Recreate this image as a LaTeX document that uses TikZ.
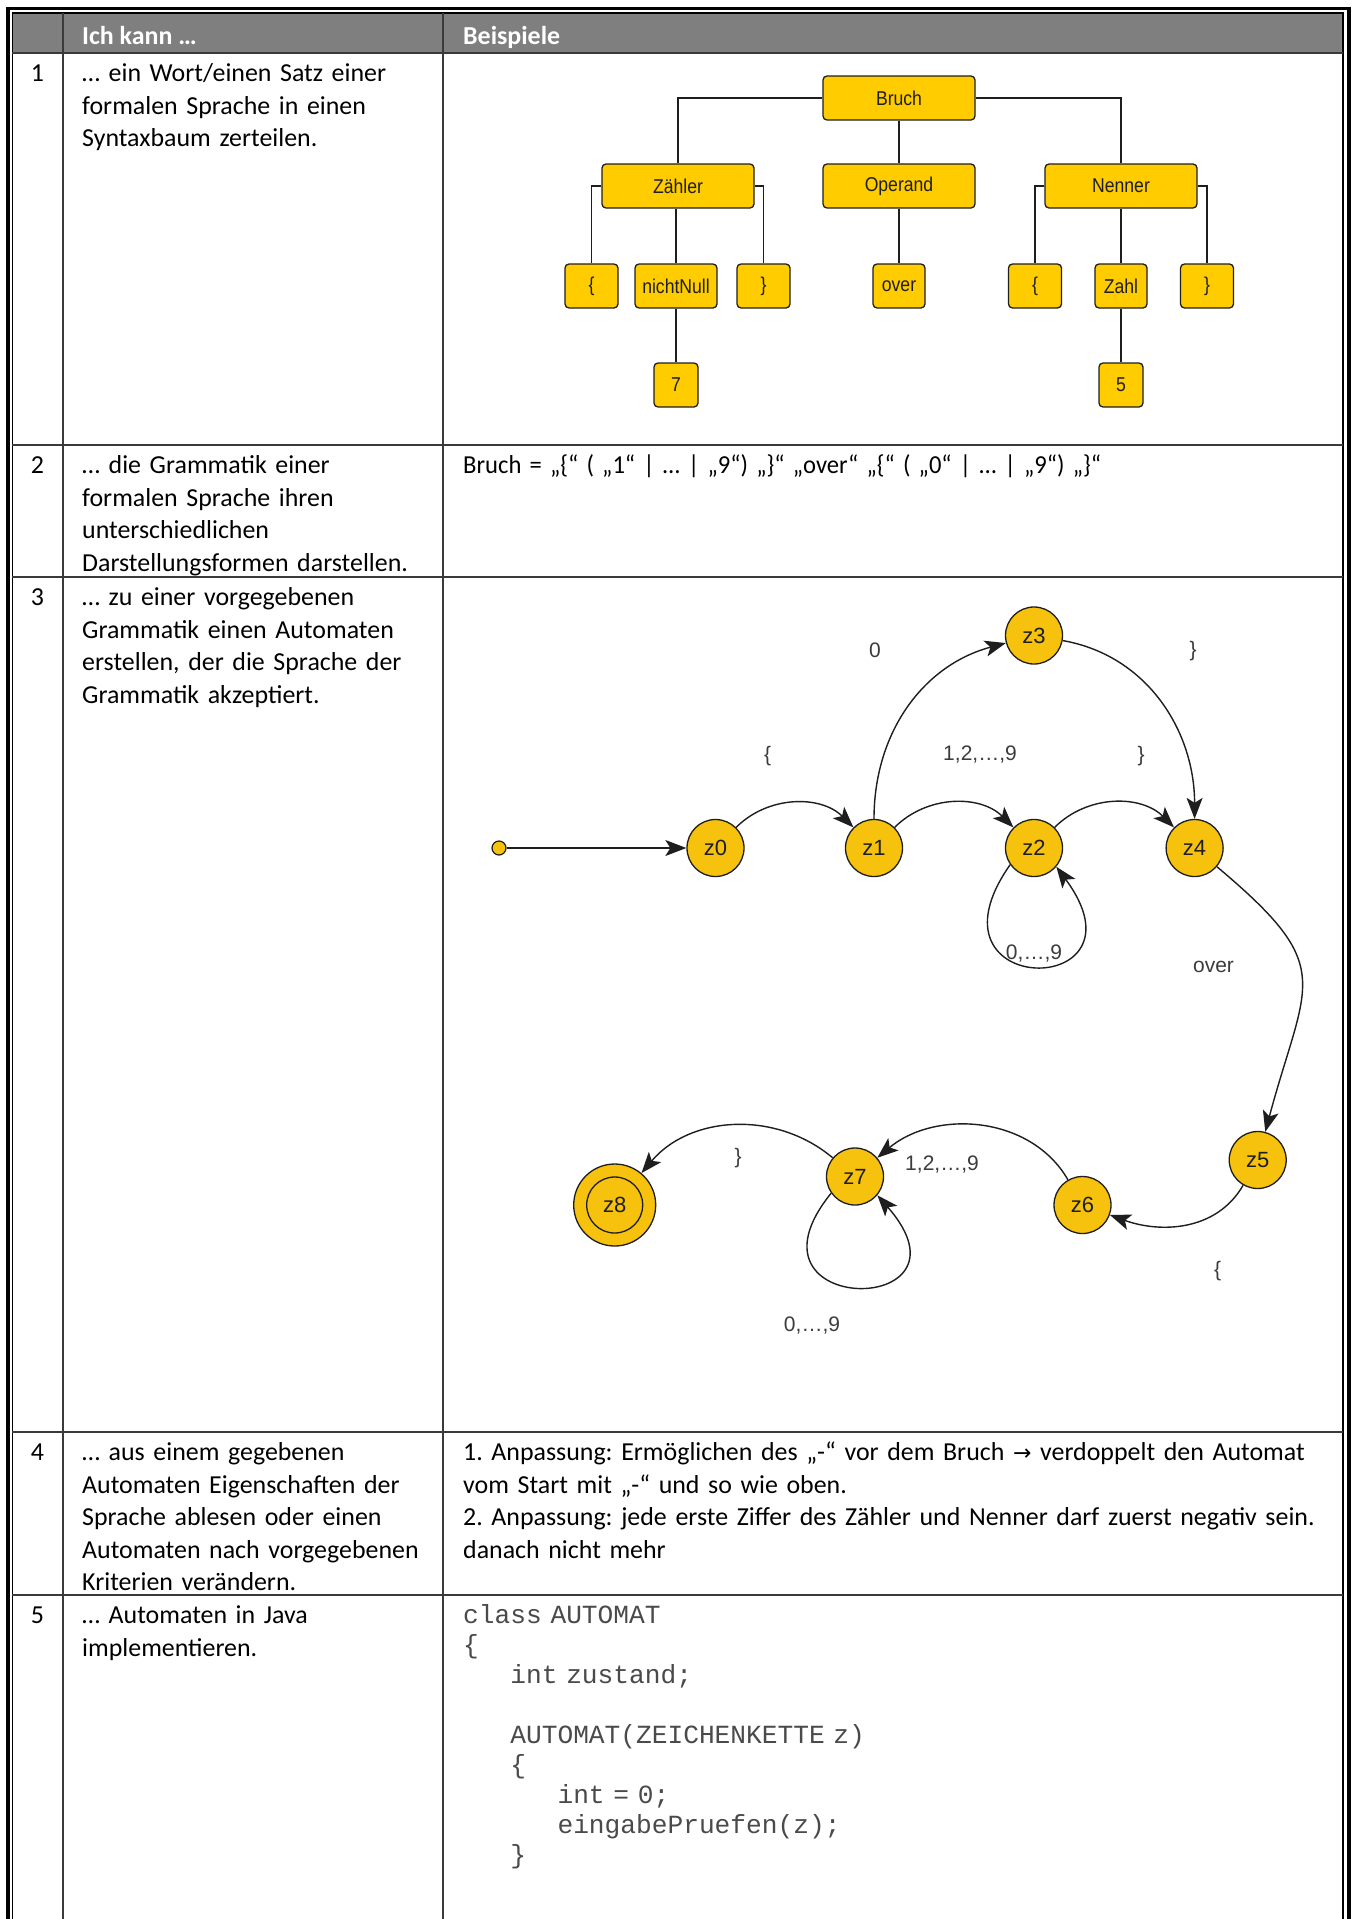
\documentclass[tikz,border=0pt]{standalone}
\usepackage{fontspec}
\setmainfont{Carlito}
\newfontfamily\codefont{Liberation Mono}
\newfontfamily\diafont{Liberation Sans}
\newfontfamily\treefont[FakeStretch=0.88]{Liberation Sans}
\newfontfamily\symfont{DejaVu Sans}
\usetikzlibrary{arrows.meta}
\definecolor{gold}{HTML}{FFCC00}
\definecolor{cgold}{HTML}{F7C20E}
\definecolor{hdr}{HTML}{7F7F7F}
\definecolor{gridc}{HTML}{3A3A3A}
\definecolor{ink}{HTML}{1E1E1E}
\definecolor{lblc}{HTML}{3C3C3C}
\definecolor{codec}{HTML}{4A4A4A}
\newcommand{\bodyfont}{\fontsize{25.9pt}{32.5pt}\selectfont\frenchspacing}
\begin{document}
\begin{tikzpicture}[x=1pt,y=1pt,
  cellL/.style={anchor=base west, inner sep=0, text width=360pt, align=left, font=\bodyfont},
  cellR/.style={anchor=base west, inner sep=0, text width=880pt, align=left, font=\bodyfont},
  rownum/.style={anchor=base, inner sep=0, font=\bodyfont},
  hdrtext/.style={anchor=base west, inner sep=0, font=\bodyfont\bfseries, text=white},
  gridline/.style={draw=gridc, line width=1.3pt},
  tbox/.style={draw=ink, fill=gold, rounded corners=4pt, line width=1.3pt, minimum height=44pt, inner sep=0, font=\treefont\fontsize{20pt}{22pt}\selectfont, text=ink},
  tline/.style={draw=ink, line width=1.2pt},
  state/.style={circle, draw=ink, fill=cgold, line width=1.3pt, minimum size=57pt, inner sep=0, font=\diafont\fontsize{22pt}{24pt}\selectfont, text=ink},
  lbl/.style={inner sep=0, font=\diafont\fontsize{21pt}{24pt}\selectfont, text=lblc},
  arr/.style={draw=ink, line width=1.4pt, -{Stealth[length=21pt,width=16pt,inset=5pt]}}
]
\useasboundingbox (0,0) rectangle (1355,-1919);
\fill[white] (0,0) rectangle (1355,-1919);

% ---------- table ----------
\fill[hdr] (12.3,-13.5) rectangle (1343,-53);
\draw[black, line width=3.5pt] (7.8,-1919) -- (7.8,-8.5) -- (1349,-8.5) -- (1349,-1919);
\draw[black, line width=1.5pt] (12.3,-1919) -- (12.3,-13) -- (1343,-13) -- (1343,-1919);
\draw[gridline] (63,-13) -- (63,-1919);
\draw[gridline] (443,-13) -- (443,-1919);
\foreach \yy in {53,445,577,1432,1595} {
  \draw[gridline] (12.3,-\yy) -- (1343,-\yy);
}

% header
\node[hdrtext] (h1) at (82,-45) {Ich kann …};
\node[hdrtext] (h2) at (463,-45) {Beispiele};

% row numbers
\node[rownum] (n1) at (37.5,-81.5) {1};
\node[rownum] (n2) at (37.5,-473.5) {2};
\node[rownum] (n3) at (37.5,-605.5) {3};
\node[rownum] (n4) at (37.5,-1460.5) {4};
\node[rownum] (n5) at (37.5,-1623.5) {5};

% left column texts
\node[cellL] (t1) at (82,-81.5) {… ein Wort/einen Satz einer\\formalen Sprache in einen\\Syntaxbaum zerteilen.};
\node[cellL] (t2) at (82,-473.5) {… die Grammatik einer\\formalen Sprache ihren\\unterschiedlichen\\Darstellungsformen darstellen.};
\node[cellL] (t3) at (82,-605.5) {… zu einer vorgegebenen\\Grammatik einen Automaten\\erstellen, der die Sprache der\\Grammatik akzeptiert.};
\node[cellL] (t4) at (82,-1460.5) {… aus einem gegebenen\\Automaten Eigenschaften der\\Sprache ablesen oder einen\\Automaten nach vorgegebenen\\Kriterien verändern.};
\node[cellL] (t5) at (82,-1623.5) {… Automaten in Java\\implementieren.};

% right column texts
\node[cellR] (r2) at (463,-473.5) {\scalebox{0.95}[1]{Bruch = „\{“ ( „1“ | … | „9“) „\}“ „over“ „\{“ ( „0“ | … | „9“) „\}“}};
\node[cellR] (r4) at (463,-1460.5) {1. Anpassung: Ermöglichen des „-“ vor dem Bruch {\symfont\fontsize{22pt}{26pt}\selectfont →} verdoppelt den Automat\\vom Start mit „-“ und so wie oben.\\2. Anpassung: jede erste Ziffer des Zähler und Nenner darf zuerst negativ sein.\\danach nicht mehr};
\node[anchor=base west, inner sep=0, text width=880pt, align=left, font=\codefont\fontsize{26.2pt}{30pt}\selectfont, text=codec] (code) at (463,-1623.5)
 {class AUTOMAT\\
  \{\\
  \phantom{int}int zustand;\\
  \mbox{}\\
  \phantom{int}AUTOMAT(ZEICHENKETTE z)\\
  \phantom{int}\{\\
  \phantom{intint}int = 0;\\
  \phantom{intint}eingabePruefen(z);\\
  \phantom{int}\}};

% ---------- syntax tree ----------
\node[tbox, minimum width=152pt] (bruch) at (899,-98) {Bruch};
\node[tbox, minimum width=152pt] (zaehler) at (678,-186) {Zähler};
\node[tbox, minimum width=152pt] (operand) at (899,-186) {Operand};
\node[tbox, minimum width=152pt] (nenner) at (1121,-186) {Nenner};
\node[tbox, minimum width=53pt] (zl) at (591.5,-286) {\{};
\node[tbox, minimum width=82pt] (nn) at (676,-286) {nichtNull};
\node[tbox, minimum width=53pt] (zr) at (763.5,-286) {\}};
\node[tbox, minimum width=52pt] (over) at (899,-286) {over};
\node[tbox, minimum width=53pt] (nl) at (1035,-286) {\{};
\node[tbox, minimum width=52pt] (zahl) at (1121,-286) {Zahl};
\node[tbox, minimum width=53pt] (nr) at (1207,-286) {\}};
\node[tbox, minimum width=44pt] (seven) at (676,-385) {7};
\node[tbox, minimum width=44pt] (five) at (1121,-385) {5};

\draw[tline] (bruch.west) -| (zaehler.north);
\draw[tline] (bruch.east) -| (nenner.north);
\draw[tline] (bruch.south) -- (operand.north);
\draw[tline] (zaehler.west) -| (zl.north);
\draw[tline] (zaehler.east) -| (zr.north);
\draw[tline] (nn.north) -- (nn.north |- zaehler.south);
\draw[tline] (nn.south) -- (seven.north);
\draw[tline] (operand.south) -- (over.north);
\draw[tline] (nenner.west) -| (nl.north);
\draw[tline] (nenner.east) -| (nr.north);
\draw[tline] (zahl.north) -- (nenner.south);
\draw[tline] (zahl.south) -- (five.north);

% ---------- automaton ----------
\node[circle, draw=ink, fill=cgold, line width=1.2pt, minimum size=14pt, inner sep=0] (start) at (499,-848) {};
\node[state] (z0) at (715.5,-848) {z0};
\node[state] (z1) at (874,-848) {z1};
\node[state] (z2) at (1034,-848) {z2};
\node[state] (z4) at (1194.6,-848) {z4};
\node[state] (z3) at (1034,-635.5) {z3};
\node[state] (z5) at (1257.7,-1160) {z5};
\node[state] (z6) at (1082.5,-1205) {z6};
\node[state] (z7) at (855,-1176.5) {z7};
\node[state, minimum size=82pt] (z8) at (614.7,-1205) {z8};
\draw[draw=ink, line width=1.3pt] (z8.center) circle[radius=28pt];

\draw[arr] (start) -- (z0);
\draw[arr] (z0) to[out=45,in=135] (z1);
\draw[arr] (z1) to[out=45,in=135] (z2);
\draw[arr] (z2) to[out=45,in=135] (z4);
\draw[arr] (z1) to[out=90,in=195] (z3);
\draw[arr] (z3) to[out=-10,in=90] (z4);
\draw[arr] (z2.215) .. controls (915,-1000) and (1155,-1000) .. (z2.320);
\draw[arr] (z4) to[out=-40,in=75,looseness=1.5] (z5);
\draw[arr] (z5) to[out=240,in=-20] (z6);
\draw[arr] (z6) to[out=120,in=40] (z7);
\draw[arr] (z7) to[out=140,in=50] (z8);
\draw[arr] (z7.215) .. controls (730,-1318) and (985,-1318) .. (z7.320);

\node[lbl] (a1) at (875,-650) {0};
\node[lbl] (a2) at (1193,-651) {\}};
\node[lbl] (a3) at (767.5,-756.5) {\{};
\node[lbl] (a4) at (980,-755) {1,2,…,9};
\node[lbl] (a5) at (1141,-756.5) {\}};
\node[lbl] (a6) at (1034,-954) {0,…,9};
\node[lbl] (a7) at (1213.5,-967) {over};
\node[lbl] (a8) at (738,-1157.6) {\}};
\node[lbl] (a9) at (942,-1164.7) {1,2,…,9};
\node[lbl] (a10) at (1217.6,-1271) {\{};
\node[lbl] (a11) at (812,-1325) {0,…,9};
\end{tikzpicture}
\end{document}
